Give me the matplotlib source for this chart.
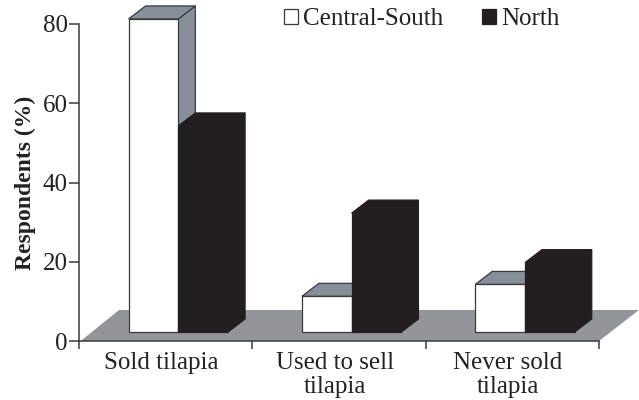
import matplotlib
matplotlib.use("Agg")
import matplotlib.pyplot as plt
from matplotlib.patches import Polygon, Patch

plt.rcParams['font.family'] = ['Liberation Serif', 'DejaVu Serif']

# values
categories = ["Sold tilapia", "Used to sell\ntilapia", "Never sold\ntilapia"]
central_south = [79, 9, 12]
north = [52, 30, 17.5]
yticks = [0, 20, 40, 60, 80]

# colours
WHITE = "#ffffff"
BLACK = "#231f20"
FLOOR = "#939598"
SHADE = "#87909a"
EDGE = "#3a3a3c"

fig = plt.figure(figsize=(6.39, 4.0), dpi=100)
# axis box: x 79-599 px, y 24-341 px
ax = fig.add_axes([79/639, 59/400, 520/639, 317/400])
ax.set_xlim(0, 3)
ax.set_ylim(0, 80)

# 3D look: sizes in data units
bar_w = 0.287
start = 0.286
dx = 17/173.3
dy = 13/3.96
base = 9/3.96
floor_dx = 40/173.3
floor_dy = 31/3.96


def box(x, val, face, side, top, z):
    y0 = base
    y1 = base + val
    x1 = x + bar_w
    # side face
    ax.add_patch(Polygon([(x1, y0), (x1+dx, y0+dy), (x1+dx, y1+dy), (x1, y1)],
                         fc=side, ec=EDGE if side != BLACK else BLACK, lw=0.9, zorder=z, clip_on=False))
    # top face
    ax.add_patch(Polygon([(x, y1), (x+dx, y1+dy), (x1+dx, y1+dy), (x1, y1)],
                         fc=top, ec=EDGE if top != BLACK else BLACK, lw=0.9, zorder=z, clip_on=False))
    # front face
    ax.add_patch(Polygon([(x, y0), (x1, y0), (x1, y1), (x, y1)],
                         fc=face, ec=EDGE if face != BLACK else BLACK, lw=0.9, zorder=z+0.1, clip_on=False))


# floor
ax.add_patch(Polygon([(0.01, 0), (floor_dx, floor_dy), (3+floor_dx, floor_dy), (3, 0)],
                     fc=FLOOR, ec="none", zorder=1, clip_on=False))

for i in range(len(categories)):
    box(i + start, central_south[i], WHITE, SHADE, SHADE, 2)
    box(i + start + bar_w, north[i], BLACK, BLACK, BLACK, 3)

# axes
for s in ["top", "right"]:
    ax.spines[s].set_visible(False)
for s in ["left", "bottom"]:
    ax.spines[s].set_color(EDGE)
    ax.spines[s].set_linewidth(1.1)
    ax.spines[s].set_zorder(5)

ax.set_yticks(yticks)
ax.tick_params(axis="y", length=7, width=1.1, color=EDGE, labelsize=18, labelcolor="#222222", pad=1)
ax.set_xticks(range(len(categories) + 1))
ax.set_xticklabels([])
ax.tick_params(axis="x", which="major", length=6, width=1.1, color=EDGE)
ax.set_xticks([i + 0.475 for i in range(len(categories))], minor=True)
ax.set_xticklabels(categories, minor=True, fontsize=18, color="#222222", linespacing=1.1)
ax.tick_params(axis="x", which="minor", length=0, pad=8)

ax.set_ylabel("Respondents (%)", fontsize=17, fontweight="bold", color="#222222")
ax.yaxis.set_label_coords(-0.083, 0.50)

# legend
handles = [Patch(fc=WHITE, ec=EDGE, lw=0.9, label="Central-South"),
           Patch(fc=BLACK, ec=BLACK, lw=0.9, label="North")]
ax.legend(handles=handles, ncols=2, frameon=False, fontsize=18, labelcolor="#222222",
          loc="upper left", bbox_to_anchor=(0.395, 1.05), borderaxespad=0, borderpad=0,
          handlelength=0.56, handleheight=0.56, handletextpad=0.2, columnspacing=1.55)

fig.savefig("out.png", dpi=100)
